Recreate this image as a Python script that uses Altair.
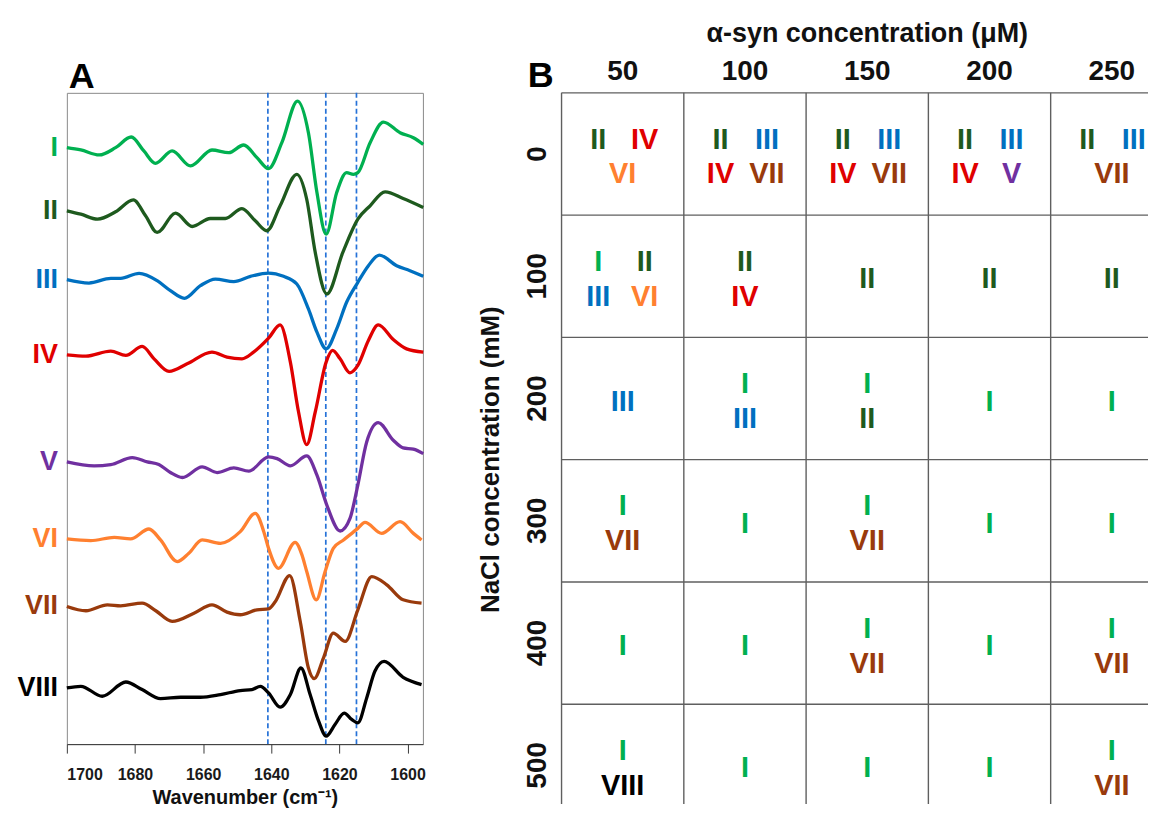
import altair as alt
import pandas as pd

FONT = "Liberation Sans, Arial, Helvetica, sans-serif"

# ---------------- Panel A : second-derivative FTIR spectra ----------------
LABELS = ["I", "II", "III", "IV", "V", "VI", "VII", "VIII"]
COLORS = ["#00B050", "#1E5A1E", "#0070C0", "#E00000", "#7030A0", "#FF8030", "#993A0C", "#000000"]

WN_I = [1700.0, 1695.9, 1690.5, 1685.7, 1681.1, 1677.4, 1674.0, 1669.1, 1663.7, 1657.4, 1652.5, 1648.1, 1644.2,
        1640.8, 1636.9, 1632.3, 1629.1, 1626.6, 1623.9, 1620.8, 1617.9, 1615.9, 1614.6, 1611.0, 1607.1, 1602.2,
        1598.3, 1595.4]
INT_I = [598, 595.7, 590.7, 598, 608.7, 594.7, 582.3, 594.7, 579.7, 595.7, 593, 600.7, 588,
         577, 603, 644.7, 613, 553, 511.3, 553, 573, 571.3, 573, 603, 623.7, 613,
         608, 601.3]

WN_II = [1700.0, 1695.9, 1691.0, 1685.7, 1680.5, 1676.9, 1673.5, 1668.1, 1663.2, 1657.9, 1653.5, 1648.6, 1644.7,
         1641.3, 1637.4, 1632.5, 1629.6, 1627.1, 1623.7, 1619.0, 1614.6, 1611.0, 1606.6, 1601.3, 1595.4]
INT_II = [534.7, 531.3, 526.3, 533.7, 545.7, 529.7, 513, 532.3, 519, 527, 527, 537, 524.7,
          514.7, 539.7, 571.3, 546.3, 493, 451.3, 493, 526.3, 539.7, 553.7, 547, 538]

WN_III = [1700.0, 1693.5, 1687.1, 1684.2, 1678.8, 1673.5, 1669.6, 1665.5, 1660.8, 1656.4, 1651.0, 1646.1, 1640.8,
          1636.4, 1632.5, 1629.1, 1626.6, 1623.9, 1620.8, 1617.9, 1614.6, 1611.5, 1608.3, 1603.2, 1599.3, 1595.4]
INT_III = [465.7, 462.3, 467, 467, 472, 464.7, 454.7, 447, 459.7, 466.3, 463.7, 469, 472.3,
           469, 461.3, 436.3, 413, 396.3, 416.3, 443, 463, 479.7, 490.3, 479.7, 474.7, 469]

WN_IV = [1700.0, 1694.4, 1687.1, 1682.7, 1677.9, 1674.4, 1670.0, 1664.7, 1657.4, 1653.0, 1648.6, 1645.2, 1640.8,
         1637.4, 1634.4, 1632.0, 1629.6, 1627.1, 1623.9, 1622.0, 1619.8, 1616.9, 1614.6, 1611.5, 1608.6, 1604.2,
         1600.3, 1595.4]
INT_IV = [390.3, 389, 394, 389.7, 398.7, 386.3, 373.7, 381.3, 393, 388, 386.3, 393, 407,
          420.3, 383, 333, 300.3, 333, 383, 394.7, 386.3, 372.3, 379.7, 404.7, 420.3, 405.7,
          396.3, 393]

WN_V = [1700.0, 1692.0, 1687.1, 1680.8, 1676.4, 1673.0, 1669.6, 1666.1, 1660.3, 1655.9, 1651.0, 1646.6, 1640.8,
        1638.3, 1634.4, 1629.6, 1626.6, 1623.7, 1619.8, 1616.9, 1614.6, 1612.0, 1608.6, 1604.2, 1601.3, 1598.3,
        1595.4]
INT_V = [283, 279, 280.3, 287.3, 283, 280.3, 272.3, 267.3, 278, 272.3, 277, 273.7, 288,
         286.3, 279, 289, 269.7, 239.7, 213.7, 226.3, 259.7, 303, 322.3, 304.7, 297, 295.7,
         291.3]

WN_VI = [1700.0, 1693.0, 1686.1, 1681.3, 1675.9, 1672.5, 1667.6, 1664.2, 1660.3, 1654.9, 1649.1, 1644.7, 1642.2,
         1640.8, 1637.9, 1633.0, 1631.0, 1629.6, 1626.8, 1624.2, 1621.8, 1618.8, 1614.6, 1612.5, 1607.6, 1602.2,
         1598.3, 1595.9]
INT_VI = [205.7, 204, 207.3, 205.7, 215.7, 204.7, 183, 191.3, 204.7, 201.3, 213, 231.3, 213,
          196.3, 176.3, 202.3, 189.7, 173, 144.7, 173, 196.3, 204.7, 216.3, 222.3, 211.3, 223,
          211.3, 204.7]

WN_VII = [1700.0, 1694.4, 1688.1, 1684.2, 1677.9, 1673.9, 1669.1, 1662.7, 1657.4, 1653.0, 1649.1, 1644.2, 1640.8,
          1638.8, 1634.6, 1631.5, 1629.1, 1627.4, 1624.7, 1621.8, 1618.3, 1614.6, 1610.5, 1606.1, 1601.3, 1595.9]
INT_VII = [138, 133.7, 139.7, 138.7, 141.3, 133.7, 123, 131.3, 139.7, 132.3, 129.7, 134.7, 135.7,
           143, 169, 123, 76.3, 65.7, 86.3, 111.3, 103, 134.7, 168, 159.7, 144.7, 141.3]

WN_VIII = [1700.0, 1695.9, 1689.6, 1682.7, 1677.9, 1672.5, 1666.6, 1660.8, 1654.9, 1649.1, 1645.7, 1643.2, 1640.8,
           1637.4, 1634.4, 1631.3, 1628.6, 1626.1, 1623.9, 1621.3, 1618.6, 1616.4, 1614.6, 1612.0, 1609.6, 1606.9,
           1601.3, 1595.9]
INT_VIII = [56.3, 58, 48, 62.3, 54.7, 45.7, 47, 47, 49.7, 53.7, 54.7, 58, 51.3,
            37, 49.7, 76.3, 49.7, 23, 8, 19.7, 31, 24.7, 21.3, 46.3, 73, 83,
            67, 59.7]

SPECTRA = {
    "I": (WN_I, INT_I), "II": (WN_II, INT_II), "III": (WN_III, INT_III), "IV": (WN_IV, INT_IV),
    "V": (WN_V, INT_V), "VI": (WN_VI, INT_VI), "VII": (WN_VII, INT_VII), "VIII": (WN_VIII, INT_VIII),
}
MARKER_WN = [1641, 1624, 1615]
X_TICKS = list(range(1600, 1701, 10))
X_DOMAIN = [1595.5, 1700]
Y_DOMAIN_A = [0, 653]

# ---------------- Panel B : polymorph map ----------------
ASYN = ["50", "100", "150", "200", "250"]          # alpha-syn concentration (uM)
NACL = ["0", "100", "200", "300", "400", "500"]    # NaCl concentration (mM)
ROW_0 = ["II IV/VI", "II III/IV VII", "II III/IV VII", "II III/IV V", "II III/VII"]
ROW_100 = ["I II/III VI", "II/IV", "II", "II", "II"]
ROW_200 = ["III", "I/III", "I/II", "I", "I"]
ROW_300 = ["I/VII", "I", "I/VII", "I", "I"]
ROW_400 = ["I", "I", "I/VII", "I", "I/VII"]
ROW_500 = ["I/VIII", "I", "I", "I", "I/VII"]
CELL_ROWS = [ROW_0, ROW_100, ROW_200, ROW_300, ROW_400, ROW_500]

# ---------------- build tables ----------------
recs = []
for lab in LABELS:
    wn, it = SPECTRA[lab]
    for i, (w, v) in enumerate(zip(wn, it)):
        recs.append({"series": lab, "wn": w, "int": v, "order": i})
spec_df = pd.DataFrame(recs)
start_df = spec_df[spec_df["order"] == 0].reset_index(drop=True)

color = alt.Color("series:N", scale=alt.Scale(domain=LABELS, range=COLORS), legend=None)

x_a = alt.X(
    "wn:Q",
    scale=alt.Scale(domain=X_DOMAIN, reverse=True, nice=False, zero=False),
    axis=alt.Axis(
        values=X_TICKS, format="d",
        labelExpr="datum.value % 20 == 0 ? datum.label : ''",
        title="Wavenumber (cm⁻¹)", grid=False,
        domainColor="#3a3a3a", tickColor="#3a3a3a", tickSize=9, labelPadding=13,
        labelFont=FONT, labelFontSize=16, labelFontWeight="bold", labelColor="#1a1a1a",
        titleFont=FONT, titleFontSize=20, titleFontWeight="bold", titleColor="#111", titlePadding=6,
    ),
)
y_a = alt.Y("int:Q", scale=alt.Scale(domain=Y_DOMAIN_A, nice=False, zero=False), axis=None)

lines = alt.Chart(spec_df).mark_line(strokeWidth=3.3, interpolate="monotone").encode(
    x=x_a, y=y_a, color=color, detail="series:N", order="order:Q"
)
markers = alt.Chart(pd.DataFrame({"wn": MARKER_WN})).mark_rule(
    color="#2672D8", strokeDash=[5, 3], strokeWidth=1.7
).encode(x=alt.X("wn:Q"))
curve_labels = alt.Chart(start_df).mark_text(
    align="right", baseline="middle", fontSize=27, fontWeight="bold", font=FONT
).encode(x=alt.value(-9), y=alt.Y("int:Q"), text="series:N", color=color)
title_a = alt.Chart(pd.DataFrame({"t": ["A"]})).mark_text(
    align="left", baseline="alphabetic", fontSize=36, fontWeight="bold", font=FONT, color="#000"
).encode(x=alt.value(2), y=alt.value(-5), text="t:N")
spacer_a = alt.Chart(pd.DataFrame({"t": ["."]})).mark_text(
    align="left", baseline="alphabetic", fontSize=27, font=FONT, opacity=0
).encode(x=alt.value(100), y=alt.value(-51), text="t:N")

panel_a = alt.layer(markers, lines, curve_labels, title_a, spacer_a).properties(
    width=357, height=653, view=alt.ViewBackground(stroke="#8a8a8a", strokeWidth=1)
)

# panel B tables
NCOL, NROW = len(ASYN), len(NACL)
CELL_PX = 122.6
B_W, B_H = 588, 713
XMAX_B, YMAX_B = B_W / CELL_PX, B_H / CELL_PX

cell_recs = []
for r, row in enumerate(CELL_ROWS):
    for c, content in enumerate(row):
        lines_txt = content.split("/")
        n = len(lines_txt)
        for li, ln in enumerate(lines_txt):
            items = ln.split()
            cy = r + 0.5 + 0.025 + (li - (n - 1) / 2) * 0.285
            for k, it in enumerate(items):
                if len(items) == 1:
                    cx = c + 0.5
                else:
                    cx = c + 0.5 + (-0.2 if k == 0 else 0.18)
                cell_recs.append({"series": it, "cx": cx, "cy": cy})
cells_df = pd.DataFrame(cell_recs)

grid_recs = []
for i in range(NCOL + 1):
    if i <= XMAX_B:
        grid_recs.append({"cx": i, "cx2": i, "cy": 0, "cy2": NROW})
for j in range(NROW + 1):
    if j <= YMAX_B:
        grid_recs.append({"cx": 0, "cx2": NCOL, "cy": j, "cy2": j})
grid_df = pd.DataFrame(grid_recs)

head_df = pd.DataFrame({"t": ASYN, "cx": [i + 0.5 for i in range(NCOL)]})
rowlab_df = pd.DataFrame({"t": NACL, "cy": [j + 0.5 for j in range(NROW)]})

x_b = alt.X("cx:Q", scale=alt.Scale(domain=[0, XMAX_B], nice=False, zero=False, clamp=True), axis=None)
y_b = alt.Y("cy:Q", scale=alt.Scale(domain=[0, YMAX_B], nice=False, zero=False, reverse=True, clamp=True),
            axis=None)

grid = alt.Chart(grid_df).mark_rule(color="#5f5f5f", strokeWidth=1.4).encode(
    x=x_b, x2="cx2:Q", y=y_b, y2="cy2:Q"
)
cell_text = alt.Chart(cells_df).mark_text(
    align="center", baseline="middle", fontSize=29, fontWeight="bold", font=FONT
).encode(x="cx:Q", y="cy:Q", text="series:N", color=color)
headers = alt.Chart(head_df).mark_text(
    align="center", baseline="alphabetic", fontSize=28, fontWeight="bold", font=FONT, color="#111"
).encode(x="cx:Q", y=alt.value(-13), text="t:N")
row_labels = alt.Chart(rowlab_df).mark_text(
    align="center", baseline="middle", angle=270, fontSize=28, fontWeight="bold", font=FONT, color="#111"
).encode(x=alt.value(-24), y="cy:Q", text="t:N")
title_b_top = alt.Chart(pd.DataFrame({"t": ["α-syn concentration (μM)"], "cx": [NCOL / 2]})).mark_text(
    align="center", baseline="alphabetic", fontSize=27, fontWeight="bold", font=FONT, color="#111"
).encode(x="cx:Q", y=alt.value(-51), text="t:N")
title_b_left = alt.Chart(pd.DataFrame({"t": ["NaCl concentration (mM)"], "cy": [NROW / 2]})).mark_text(
    align="center", baseline="middle", angle=270, fontSize=26, fontWeight="bold", font=FONT, color="#111"
).encode(x=alt.value(-71), y="cy:Q", text="t:N")
letter_b = alt.Chart(pd.DataFrame({"t": ["B"]})).mark_text(
    align="left", baseline="alphabetic", fontSize=36, fontWeight="bold", font=FONT, color="#000"
).encode(x=alt.value(-34), y=alt.value(-6), text="t:N")

panel_b = alt.layer(grid, cell_text, headers, row_labels, title_b_top, title_b_left, letter_b).properties(
    width=B_W, height=B_H, view=alt.ViewBackground(stroke="transparent")
)

chart = alt.hconcat(panel_a, panel_b, spacing=46).properties(
    padding={"left": 8, "top": 10, "right": 0, "bottom": 0},
    background="white",
).configure_view(stroke="transparent")

chart.save("out.html", embed_options={"renderer": "svg", "actions": False})
